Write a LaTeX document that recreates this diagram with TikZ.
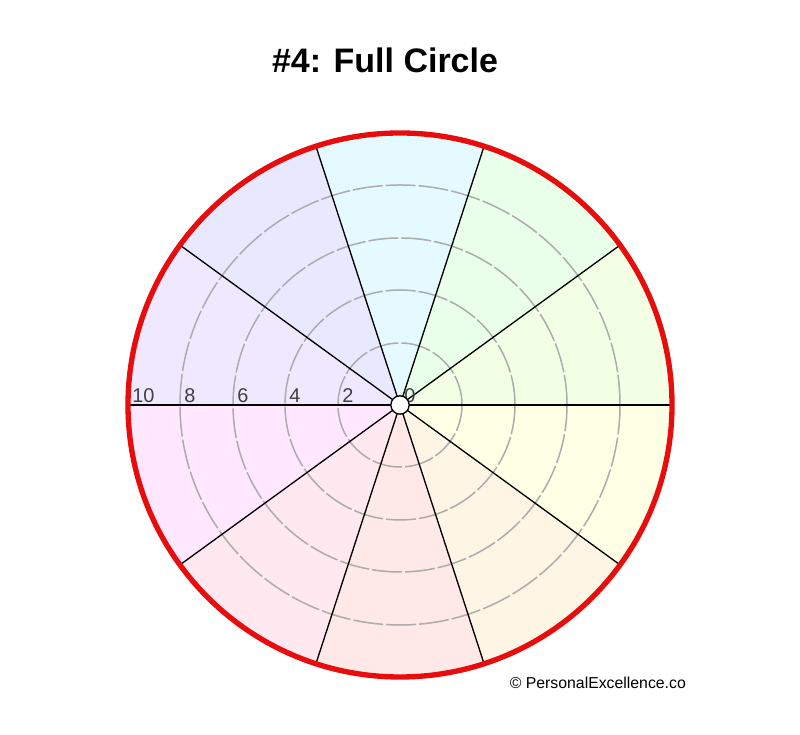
\documentclass[tikz,border=0pt]{standalone}
\usepackage{fontspec}
\setmainfont{Liberation Sans}
\usetikzlibrary{calc}
\begin{document}
\begin{tikzpicture}[x=0.3mm, y=0.3mm,
    spoke/.style={draw=black, line width=0.4mm},
    ring/.style={draw=gray!65, line width=0.45mm, dash pattern=on 9mm off 0.9mm},
    rimline/.style={draw=red!90!black!95, line width=1.6mm},
    scalelabel/.style={font=\fontsize{17}{19}\selectfont, text=black!75, anchor=south west, inner sep=1pt}
]
\useasboundingbox (0,0) rectangle (800,735);

% Title
\node[font=\fontsize{29}{33}\bfseries\selectfont] (title) at (385,675) {\#4: Full Circle};

% Sectors
\coordinate (hub) at (400,330);
\foreach \a/\c in {0/F3FFE5, 36/EAFFEA, 72/E5FAFF, 108/E8E8FF, 144/F0E8FF,
                   180/FFE8FF, 216/FFE8F0, 252/FFE8E8, 288/FFF5E5, 324/FFFFE5} {
  \definecolor{sect}{HTML}{\c}
  \fill[sect] (hub) -- ++(\a:272) arc[start angle=\a, end angle=\a+36, radius=272] -- cycle;
}

% Rings
\foreach \r in {62,115,167,220}
  \draw[ring] (hub) circle[radius=\r];

% Spokes
\foreach \a in {0,36,...,324}
  \draw[spoke] (hub) -- ++(\a:272);

% Scale labels
\foreach \r/\t in {272/10, 220/8, 167/6, 115/4, 62/2, 0/0}
  \node[scalelabel] (lab\t) at ($(hub)+(-\r+3,1)$) {\t};

% Rim and hub
\draw[rimline] (hub) circle[radius=272];
\node[circle, draw=black, fill=white, line width=0.4mm, minimum size=5.5mm, inner sep=0pt] (centre) at (hub) {};

% Credit
\node[anchor=east, font=\fontsize{13.5}{15}\selectfont] (credit) at (690,52) {© PersonalExcellence.co};
\end{tikzpicture}
\end{document}
